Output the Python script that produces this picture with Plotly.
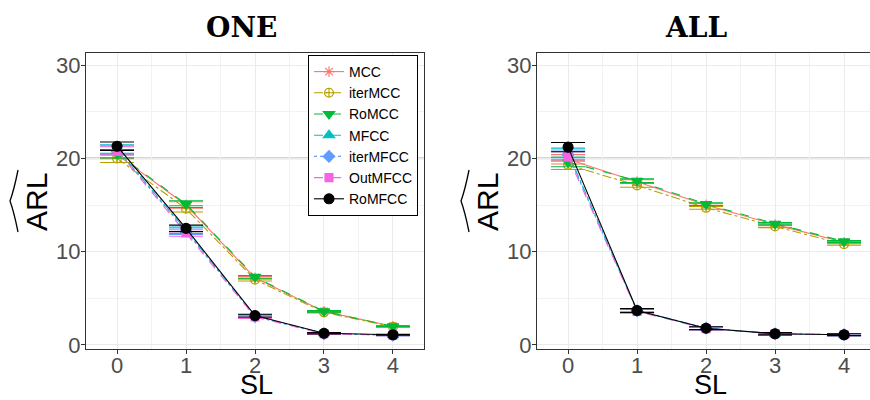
import plotly.graph_objects as go

W, H = 870, 400

sl = [0, 1, 2, 3, 4]
methods = ["MCC", "iterMCC", "RoMCC", "MFCC", "iterMFCC", "OutMFCC", "RoMFCC"]

# ONE panel
one_MCC = [20.4, 15.0, 7.2, 3.6, 2.0]
one_iterMCC = [20.0, 14.6, 7.0, 3.5, 1.95]
one_RoMCC = [20.5, 15.1, 7.3, 3.6, 2.0]
one_MFCC = [21.0, 12.3, 3.1, 1.25, 1.05]
one_iterMFCC = [20.9, 12.2, 3.05, 1.2, 1.05]
one_OutMFCC = [20.8, 12.0, 3.0, 1.2, 1.05]
one_RoMFCC = [21.3, 12.5, 3.15, 1.25, 1.1]
one_err = [0.45, 0.35, 0.15, 0.08, 0.05]

# ALL panel
all_MCC = [19.9, 17.5, 15.0, 12.9, 11.0]
all_iterMCC = [19.3, 17.1, 14.7, 12.7, 10.8]
all_RoMCC = [19.6, 17.6, 15.1, 13.0, 11.1]
all_MFCC = [20.6, 3.7, 1.8, 1.2, 1.1]
all_iterMFCC = [20.4, 3.65, 1.8, 1.2, 1.1]
all_OutMFCC = [20.2, 3.6, 1.75, 1.2, 1.1]
all_RoMFCC = [21.2, 3.7, 1.8, 1.2, 1.1]
all_err = [0.5, 0.2, 0.15, 0.12, 0.1]

one_vals = [one_MCC, one_iterMCC, one_RoMCC, one_MFCC, one_iterMFCC, one_OutMFCC, one_RoMFCC]
all_vals = [all_MCC, all_iterMCC, all_RoMCC, all_MFCC, all_iterMFCC, all_OutMFCC, all_RoMFCC]

colors = ["#F8766D", "#B79F00", "#00BA38", "#00BFC4", "#619CFF", "#F564E3", "#000000"]
dashes = ["solid", "dashdot", "dash", "dashdot", "dot", "dash", "solid"]
symbols = ["asterisk-open", "circle-cross-open", "triangle-down", "triangle-up",
           "diamond", "square", "circle"]
msizes = [9, 9, 10, 10, 9, 8, 10]

fig = go.Figure()

for panel, (vals, err, xa, ya) in enumerate([(one_vals, one_err, "x", "y"),
                                             (all_vals, all_err, "x2", "y2")]):
    for i, m in enumerate(methods):
        fig.add_trace(go.Scatter(
            x=sl, y=vals[i], xaxis=xa, yaxis=ya, name=m,
            mode="lines+markers",
            line=dict(color=colors[i], width=1.1, dash=dashes[i]),
            marker=dict(symbol=symbols[i], size=msizes[i], color=colors[i],
                        line=dict(color=colors[i], width=1.1)),
            error_y=dict(type="data", array=err, visible=True, color=colors[i],
                         thickness=1.1, width=17),
            showlegend=(panel == 0), legendgroup=m,
        ))

x0d = (86 / W, 424 / W)
x1d = (537 / W, 1.0)
yd = (1 - 349 / H, 1 - 53 / H)

axis_common = dict(
    showline=True, linecolor="#333333", linewidth=1, mirror=True,
    ticks="outside", ticklen=4, tickcolor="#333333", tickwidth=1,
    tickfont=dict(family="Liberation Sans, Arial", size=22, color="#4D4D4D"),
    showgrid=True, gridcolor="#EBEBEB", gridwidth=1, zeroline=False,
    automargin=False,
)
xminor = dict(dtick=0.5, tick0=0.5, showgrid=True, gridcolor="#F2F2F2", gridwidth=1)
yminor = dict(dtick=5, tick0=5, showgrid=True, gridcolor="#F2F2F2", gridwidth=1)

fig.update_layout(
    width=W, height=H,
    margin=dict(l=0, r=0, t=0, b=0, autoexpand=False),
    plot_bgcolor="white", paper_bgcolor="white",
    xaxis=dict(domain=x0d, range=[-0.45, 4.45], tickvals=sl, anchor="y", minor=xminor,
               ticklabelstandoff=-7, **axis_common),
    yaxis=dict(domain=yd, range=[-0.43, 31.29], tickvals=[0, 10, 20, 30], anchor="x", minor=yminor,
               ticklabelstandoff=-4, **axis_common),
    xaxis2=dict(domain=x1d, range=[-0.45, 4.376], tickvals=sl, anchor="y2", minor=xminor,
                ticklabelstandoff=-7, **axis_common),
    yaxis2=dict(domain=yd, range=[-0.43, 31.29], tickvals=[0, 10, 20, 30], anchor="x2", minor=yminor,
                ticklabelstandoff=-4, **axis_common),
    legend=dict(x=308 / W, y=1 - 55 / H, xanchor="left", yanchor="top",
                bgcolor="white", bordercolor="#000000", borderwidth=1,
                font=dict(family="Liberation Sans, Arial", size=14, color="#000000"),
                tracegroupgap=0, itemwidth=30),
)

# reference line at 20
for xr, yr in [("x domain", "y"), ("x2 domain", "y2")]:
    fig.add_shape(type="line", xref=xr, yref=yr, x0=0, x1=1, y0=20, y1=20,
                  line=dict(color="#C8C8C8", width=2), layer="below")

# titles and axis labels
for cx, title, hx in [(242, "ONE", 0), (696, "ALL", 451)]:
    fig.add_annotation(x=cx / W, y=1 - 27 / H, xref="paper", yref="paper", text="<b>" + title + "</b>",
                       xanchor="center", yanchor="middle",
                       showarrow=False, font=dict(family="DejaVu Serif", size=28, color="#000000"))
    fig.add_annotation(x=(cx + 14) / W, y=1 - 385 / H, xref="paper", yref="paper", text="SL",
                       xanchor="center", yanchor="middle",
                       showarrow=False, font=dict(family="Liberation Sans, Arial", size=27, color="#000000"))
    fig.add_annotation(x=(36 + hx) / W, y=1 - 202 / H, xref="paper", yref="paper", text="ARL",
                       xanchor="center", yanchor="middle",
                       textangle=-90, showarrow=False,
                       font=dict(family="Liberation Sans, Arial", size=30, color="#000000"))
    # wide hat
    pts = [(18 + hx, 170), (10 + hx, 201), (18 + hx, 232)]
    path = "M {:.4f},{:.4f} Q {:.4f},{:.4f} {:.4f},{:.4f} Q {:.4f},{:.4f} {:.4f},{:.4f}".format(
        pts[0][0] / W, 1 - pts[0][1] / H,
        (14 + hx) / W, 1 - 190 / H, pts[1][0] / W, 1 - pts[1][1] / H,
        (14 + hx) / W, 1 - 212 / H, pts[2][0] / W, 1 - pts[2][1] / H)
    fig.add_shape(type="path", xref="paper", yref="paper", path=path,
                  line=dict(color="#000000", width=1.3))

fig.write_html("out.html", config={"displayModeBar": False},
               post_script="document.body.style.margin='0px';")
